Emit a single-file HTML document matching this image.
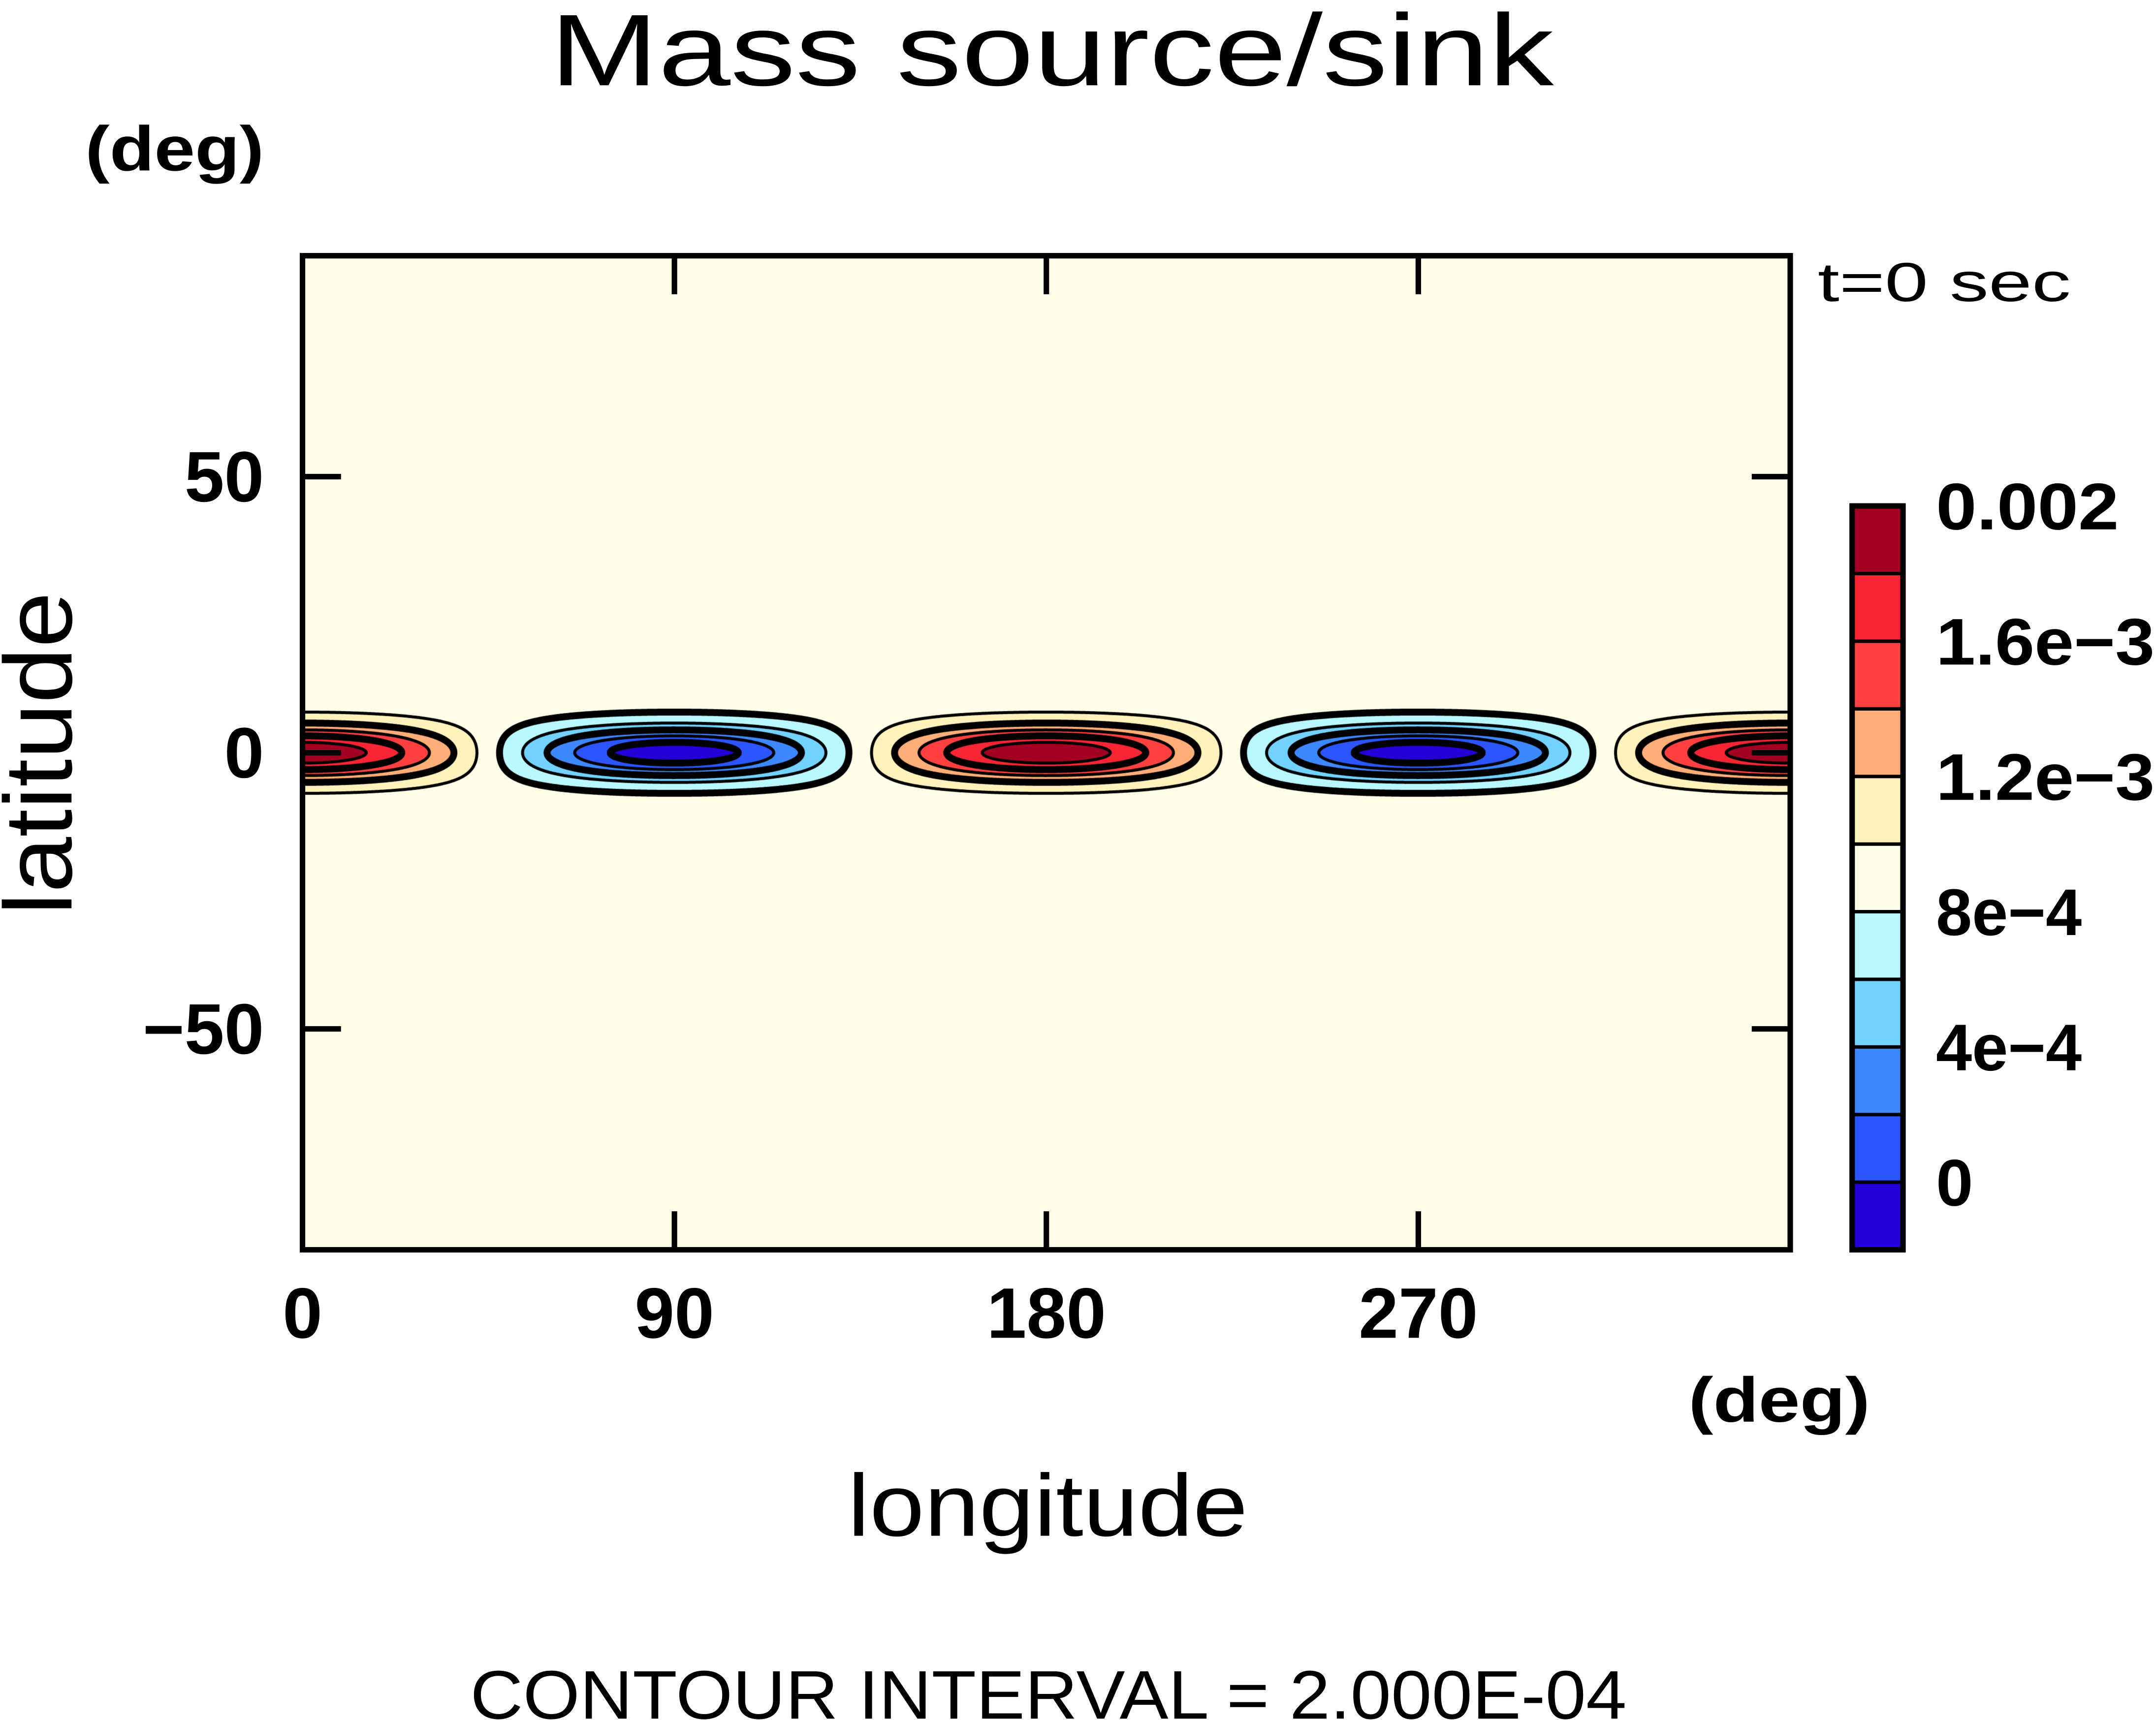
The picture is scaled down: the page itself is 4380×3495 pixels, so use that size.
<!DOCTYPE html>
<html><head><meta charset="utf-8">
<style>
html,body{margin:0;padding:0;background:#fff;}
#wrap{position:relative;width:4380px;height:3495px;overflow:hidden;background:#fff;}
#field{position:absolute;left:614px;top:520px;}
#over{position:absolute;left:0;top:0;}
text{font-family:"Liberation Sans",sans-serif;fill:#000;}
</style></head>
<body>
<div id="wrap">
<canvas id="field" width="3023" height="2019"></canvas>
<svg id="over" width="4380" height="3495" viewBox="0 0 1568 1251" preserveAspectRatio="none">
  <text x="400" y="62" font-size="74" textLength="730" lengthAdjust="spacingAndGlyphs">Mass source/sink</text>
  <text x="62" y="124" font-size="46" font-weight="bold" textLength="130" lengthAdjust="spacingAndGlyphs">(deg)</text>
  <text x="1322" y="219" font-size="40" textLength="184" lengthAdjust="spacingAndGlyphs">t=0 sec</text>
  <g id="axes"></g>
  <rect x="220" y="186" width="1082" height="723" fill="none" stroke="#000" stroke-width="4"/>
  <text transform="translate(52,548) rotate(-90)" text-anchor="middle" font-size="70" textLength="235" lengthAdjust="spacingAndGlyphs">latitude</text>
  <text x="1228" y="1034" font-size="46" font-weight="bold" textLength="132" lengthAdjust="spacingAndGlyphs">(deg)</text>
  <text x="762" y="1117" text-anchor="middle" font-size="64" textLength="291" lengthAdjust="spacingAndGlyphs">longitude</text>
  <text x="342" y="1250" font-size="50" textLength="841" lengthAdjust="spacingAndGlyphs">CONTOUR INTERVAL = 2.000E-04</text>
  <g id="cbar"></g>
</svg>
</div>
<script>
// ---- data ----
const levels = [-0.0002,0,0.0002,0.0004,0.0006,0.0008,0.001,0.0012,0.0014,0.0016,0.0018,0.002];
const colors = ["#2200d8","#2a55ff","#3d88ff","#73d2ff","#baf8ff","#fffee9","#fff2bd","#ffae78","#ff4040","#f82535","#a30024"];
const thickLevels = [0,0.0004,0.0008,0.0012,0.0016,0.002];
const fieldOffset = [0.0009];
const fieldAmplitude = [0.00105];
const zonalWavenumber = [2];
const latWidthDeg = [4.8];
const lonTicks = [0,90,180,270];
const latTicks = [50,0,-50];
const latTickLabels = ["50","0","\u221250"];
const cbarLabels = ["0.002","1.6e-3","1.2e-3","8e-4","4e-4","0"];

// ---- axis functions (overlay coords) ----
const PX0=220,PX1=1302,PY0=186,PY1=909;
const xs = lon => PX0 + (lon/360)*(PX1-PX0);
const ys = lat => PY0 + ((90-lat)/180)*(PY1-PY0);
const NS="http://www.w3.org/2000/svg";
function mk(tag, attrs, parent){const e=document.createElementNS(NS,tag);for(const k in attrs)e.setAttribute(k,attrs[k]);parent.appendChild(e);return e;}

function fieldVal(lon,lat){
  return fieldOffset[0] + fieldAmplitude[0]*Math.cos(zonalWavenumber[0]*lon*Math.PI/180)*Math.exp(-Math.pow(lat/latWidthDeg[0],2));
}

// ---- canvas fill ----
const cv=document.getElementById('field');const ctx=cv.getContext('2d');
const W=cv.width,H=cv.height;
const img=ctx.createImageData(W,H);
const rgb=colors.map(c=>[parseInt(c.slice(1,3),16),parseInt(c.slice(3,5),16),parseInt(c.slice(5,7),16)]);
for(let j=0;j<H;j++){
  const lat=90-(j+0.5)/H*180;
  for(let i=0;i<W;i++){
    const lon=(i+0.5)/W*360;
    const v=fieldVal(lon,lat);
    let k=0;while(k<colors.length-1 && v>=levels[k+1])k++;
    const c=rgb[k];const p=(j*W+i)*4;
    img.data[p]=c[0];img.data[p+1]=c[1];img.data[p+2]=c[2];img.data[p+3]=255;
  }
}
ctx.putImageData(img,0,0);

// ---- contour lines (marching squares) ----
const STEP=3;
const NX=Math.ceil(W/STEP)+1,NY=Math.ceil(H/STEP)+1;
const grid=new Float64Array(NX*NY);
for(let j=0;j<NY;j++)for(let i=0;i<NX;i++){
  grid[j*NX+i]=fieldVal(i*STEP/W*360,90-j*STEP/H*180);
}
ctx.strokeStyle="#000";ctx.lineCap="round";ctx.lineJoin="round";
for(let L=1;L<levels.length;L++){
  const lv=levels[L];
  const thick=thickLevels.some(t=>Math.abs(t-lv)<1e-9);
  ctx.lineWidth=thick?14:6;
  ctx.beginPath();
  for(let j=0;j<NY-1;j++)for(let i=0;i<NX-1;i++){
    const a=grid[j*NX+i],b=grid[j*NX+i+1],c=grid[(j+1)*NX+i+1],d=grid[(j+1)*NX+i];
    const pts=[];
    const x0=i*STEP,y0=j*STEP;
    if((a<lv)!==(b<lv))pts.push([x0+STEP*(lv-a)/(b-a),y0]);
    if((b<lv)!==(c<lv))pts.push([x0+STEP,y0+STEP*(lv-b)/(c-b)]);
    if((d<lv)!==(c<lv))pts.push([x0+STEP*(lv-d)/(c-d),y0+STEP]);
    if((a<lv)!==(d<lv))pts.push([x0,y0+STEP*(lv-a)/(d-a)]);
    if(pts.length>=2){ctx.moveTo(pts[0][0],pts[0][1]);ctx.lineTo(pts[1][0],pts[1][1]);}
    if(pts.length===4){ctx.moveTo(pts[2][0],pts[2][1]);ctx.lineTo(pts[3][0],pts[3][1]);}
  }
  ctx.stroke();
}

// ---- axes ----
const ax=document.getElementById('axes');
lonTicks.forEach(lon=>{
  const x=xs(lon);
  if(lon>0){
    const t1=mk('line',{x1:x,y1:PY0,x2:x,y2:PY0+28,stroke:'#000','stroke-width':4},ax);
    
    
    const t2=mk('line',{x1:x,y1:PY1,x2:x,y2:PY1-28,stroke:'#000','stroke-width':4},ax);
    
    
  }
  const tx=mk('text',{x:x,y:973,'text-anchor':'middle','font-size':52,'font-weight':'bold'},ax);
  tx.textContent=String(lon);
  
  
});
latTicks.forEach((lat,idx)=>{
  const y=ys(lat);
  const t1=mk('line',{x1:PX0,y1:y,x2:PX0+28,y2:y,stroke:'#000','stroke-width':4},ax);
  
  
  const t2=mk('line',{x1:PX1,y1:y,x2:PX1-28,y2:y,stroke:'#000','stroke-width':4},ax);
  
  
  const tx=mk('text',{x:192,y:y+18,'text-anchor':'end','font-size':52,'font-weight':'bold'},ax);
  tx.textContent=latTickLabels[idx];
  
  
});

// ---- colorbar ----
const cb=document.getElementById('cbar');
const CX=1347,CW=37,CY0=368,CY1=909;
const n=colors.length,bh=(CY1-CY0)/n;
colors.forEach((c,k)=>{
  const y=CY1-(k+1)*bh;
  const r=mk('rect',{x:CX,y:y,width:CW,height:bh,fill:c,stroke:'#000','stroke-width':2.5},cb);
  
  
});
const fr=mk('rect',{x:CX,y:CY0,width:CW,height:CY1-CY0,fill:'none',stroke:'#000','stroke-width':4},cb);


cbarLabels.forEach((lab,k)=>{
  const y=CY0+k*2*bh;
  const t=mk('text',{x:1408,y:y+17,'font-size':48,'font-weight':'bold',textLength:(lab.length*26.5).toFixed(0),lengthAdjust:'spacingAndGlyphs'},cb);
  t.textContent=lab.replace('-','\u2212');
  
  
});
</script>
</body></html>
